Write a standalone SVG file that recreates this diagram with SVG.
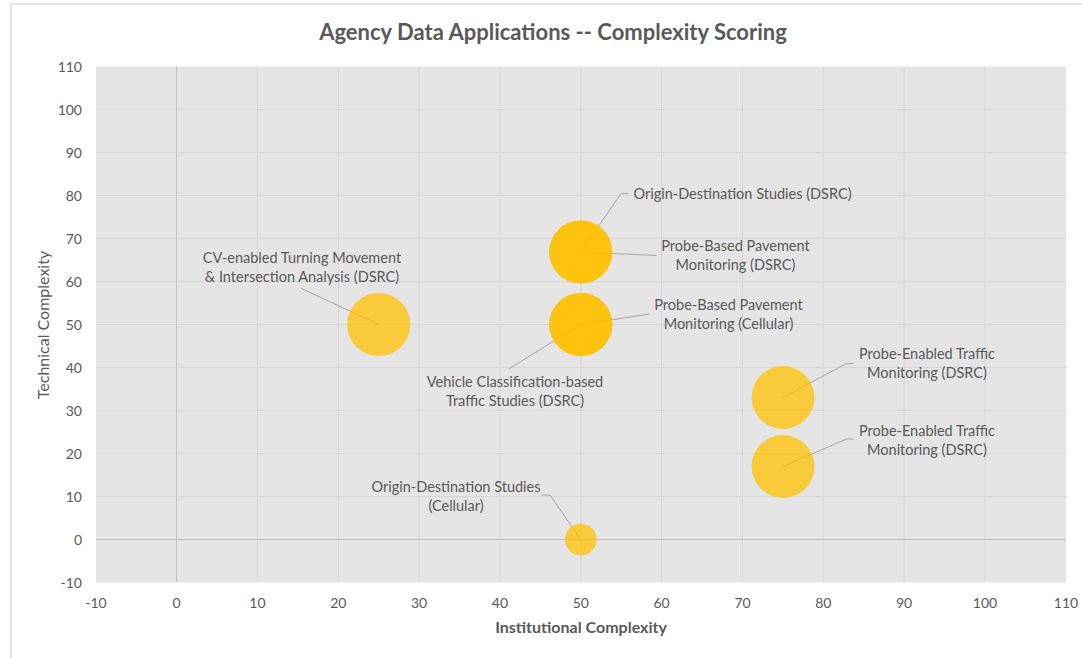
<svg xmlns="http://www.w3.org/2000/svg" width="1082" height="658" viewBox="0 0 1082 658">
<style>
.bg{fill:#ffffff}
.frame{fill:none;stroke:#d9d9d9;stroke-width:1.5}
.plot{fill:#e5e5e5}
.grid{stroke:#d6d6d6;stroke-width:1}
.zero{stroke:#bfbfbf;stroke-width:1}
.tick{font-family:Lato,"Liberation Sans",sans-serif;font-size:14px;fill:#595959}
.title{font-family:Lato,"Liberation Sans",sans-serif;font-size:22px;font-weight:bold;fill:#595959}
.axt{font-family:Lato,"Liberation Sans",sans-serif;font-size:16px;fill:#595959}
.axtb{font-family:Lato,"Liberation Sans",sans-serif;font-size:16px;font-weight:bold;fill:#595959}
.lbl{font-family:Lato,"Liberation Sans",sans-serif;font-size:14.5px;fill:#595959;text-anchor:middle}
.bub{fill:#ffc000;fill-opacity:0.75}
.lead{fill:none;stroke:#a6a6a6;stroke-width:1}
</style>
<rect class="bg" x="0" y="0" width="1082" height="658"/>
<rect class="frame" x="11" y="4" width="1090" height="670"/>
<g id="plot-area">
<rect class="plot" x="96" y="66.5" width="970" height="516"/>
<g class="grid">
<line x1="257.4" y1="66.5" x2="257.4" y2="582.5"/>
<line x1="338.3" y1="66.5" x2="338.3" y2="582.5"/>
<line x1="419.1" y1="66.5" x2="419.1" y2="582.5"/>
<line x1="499.9" y1="66.5" x2="499.9" y2="582.5"/>
<line x1="580.8" y1="66.5" x2="580.8" y2="582.5"/>
<line x1="661.6" y1="66.5" x2="661.6" y2="582.5"/>
<line x1="742.5" y1="66.5" x2="742.5" y2="582.5"/>
<line x1="823.3" y1="66.5" x2="823.3" y2="582.5"/>
<line x1="904.1" y1="66.5" x2="904.1" y2="582.5"/>
<line x1="985" y1="66.5" x2="985" y2="582.5"/>
<line x1="96" y1="109.5" x2="1066" y2="109.5"/>
<line x1="96" y1="152.5" x2="1066" y2="152.5"/>
<line x1="96" y1="195.5" x2="1066" y2="195.5"/>
<line x1="96" y1="238.5" x2="1066" y2="238.5"/>
<line x1="96" y1="281.5" x2="1066" y2="281.5"/>
<line x1="96" y1="324.5" x2="1066" y2="324.5"/>
<line x1="96" y1="367.5" x2="1066" y2="367.5"/>
<line x1="96" y1="410.5" x2="1066" y2="410.5"/>
<line x1="96" y1="453.5" x2="1066" y2="453.5"/>
<line x1="96" y1="496.5" x2="1066" y2="496.5"/>
</g>
<line class="zero" x1="176.6" y1="66.5" x2="176.6" y2="582.5"/>
<line class="zero" x1="96" y1="539.5" x2="1066" y2="539.5"/>
</g>
<text class="title" x="553" y="40" text-anchor="middle">Agency Data Applications -- Complexity Scoring</text>
<g id="y-ticks" class="tick" text-anchor="end">
<text x="82" y="71.5">110</text>
<text x="82" y="114.5">100</text>
<text x="82" y="157.5">90</text>
<text x="82" y="200.5">80</text>
<text x="82" y="243.5">70</text>
<text x="82" y="286.5">60</text>
<text x="82" y="329.5">50</text>
<text x="82" y="372.5">40</text>
<text x="82" y="415.5">30</text>
<text x="82" y="458.5">20</text>
<text x="82" y="501.5">10</text>
<text x="82" y="544.5">0</text>
<text x="82" y="587.5">-10</text>
</g>
<g id="x-ticks" class="tick" text-anchor="middle">
<text x="96" y="608">-10</text>
<text x="176.6" y="608">0</text>
<text x="257.4" y="608">10</text>
<text x="338.3" y="608">20</text>
<text x="419.1" y="608">30</text>
<text x="499.9" y="608">40</text>
<text x="580.8" y="608">50</text>
<text x="661.6" y="608">60</text>
<text x="742.5" y="608">70</text>
<text x="823.3" y="608">80</text>
<text x="904.1" y="608">90</text>
<text x="985" y="608">100</text>
<text x="1066" y="608">110</text>
</g>
<text class="axtb" x="581" y="633" text-anchor="middle">Institutional Complexity</text>
<text class="axt" x="0" y="0" text-anchor="middle" transform="translate(49,325) rotate(-90)">Technical Complexity</text>
<g id="connectors">
<polyline class="lead" points="580.8,252 621,193.5 628.5,193.5"/>
<polyline class="lead" points="580.8,252 656.5,255.5"/>
<polyline class="lead" points="580.8,324.5 649.5,314"/>
<polyline class="lead" points="580.8,324.5 508.5,369"/>
<polyline class="lead" points="378.7,324.5 301.5,288.5"/>
<polyline class="lead" points="783,397.5 846.5,363.5 853.5,363.5"/>
<polyline class="lead" points="783,466.5 846.5,439 853.5,439"/>
<polyline class="lead" points="580.8,539.5 550,495 541.5,495"/>
</g>
<g id="node-od-dsrc">
<circle class="bub" cx="580.8" cy="252" r="31.6"/>
<text class="lbl" x="742.5" y="199">Origin-Destination Studies (DSRC)</text>
</g>
<g id="node-pavement-dsrc">
<circle class="bub" cx="580.8" cy="252" r="31.6"/>
<text class="lbl" x="735.5" y="251">Probe-Based Pavement</text>
<text class="lbl" x="735.5" y="270">Monitoring (DSRC)</text>
</g>
<g id="node-pavement-cellular">
<circle class="bub" cx="580.8" cy="324.5" r="31.6"/>
<text class="lbl" x="728.5" y="310">Probe-Based Pavement</text>
<text class="lbl" x="728.5" y="329">Monitoring (Cellular)</text>
</g>
<g id="node-vehicle-classification">
<circle class="bub" cx="580.8" cy="324.5" r="31.6"/>
<text class="lbl" x="515" y="387">Vehicle Classification-based</text>
<text class="lbl" x="515" y="406">Traffic Studies (DSRC)</text>
</g>
<g id="node-cv-turning">
<circle class="bub" cx="378.7" cy="324.5" r="31.6"/>
<text class="lbl" x="302" y="263">CV-enabled Turning Movement</text>
<text class="lbl" x="302" y="282">&amp; Intersection Analysis (DSRC)</text>
</g>
<g id="node-probe-traffic-1">
<circle class="bub" cx="783" cy="397.5" r="31.4"/>
<text class="lbl" x="927" y="359">Probe-Enabled Traffic</text>
<text class="lbl" x="927" y="378">Monitoring (DSRC)</text>
</g>
<g id="node-probe-traffic-2">
<circle class="bub" cx="783" cy="466.5" r="31.4"/>
<text class="lbl" x="927" y="436">Probe-Enabled Traffic</text>
<text class="lbl" x="927" y="455">Monitoring (DSRC)</text>
</g>
<g id="node-od-cellular">
<circle class="bub" cx="580.8" cy="539.5" r="15.8"/>
<text class="lbl" x="456" y="492">Origin-Destination Studies</text>
<text class="lbl" x="456" y="511">(Cellular)</text>
</g>
</svg>
